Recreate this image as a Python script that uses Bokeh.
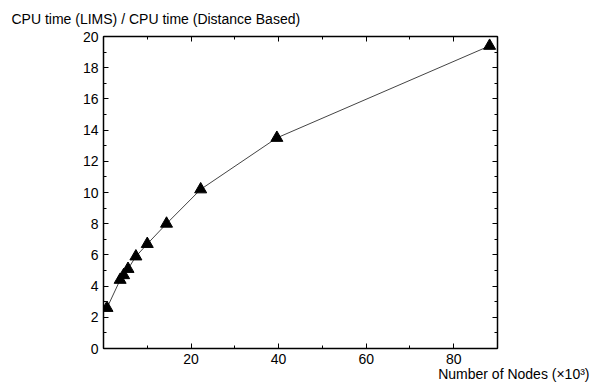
from bokeh.plotting import figure
from bokeh.models import (LinearAxis, SingleIntervalTicker, Range1d, Title)
from bokeh.embed import file_html
from bokeh.resources import INLINE

# Data
nodes_k = [0.8, 3.8, 4.6, 5.6, 7.4, 10.0, 14.4, 22.2, 39.6, 88.2]
cpu_ratio = [2.6, 4.4, 4.7, 5.1, 5.9, 6.7, 8.0, 10.2, 13.5, 19.4]

x_tick_values = [0, 20, 40, 60, 80]
y_tick_values = [0, 2, 4, 6, 8, 10, 12, 14, 16, 18, 20]
title_text = "CPU time (LIMS) / CPU time (Distance Based)"
xlabel_text = "Number of Nodes (×10³)"

FONT = "Liberation Sans"
FS = "14px"

p = figure(width=590, height=384, output_backend="svg", toolbar_location=None,
           x_range=Range1d(0, 90), y_range=Range1d(0, 20),
           x_axis_location=None, y_axis_location=None)
p.min_border_left = 103
p.min_border_right = 93
p.min_border_top = 36
p.min_border_bottom = 36
p.outline_line_color = None
p.xgrid.visible = False
p.ygrid.visible = False
p.background_fill_color = "white"
p.border_fill_color = "white"


def style(ax, labels=True):
    ax.axis_line_width = 1.5
    ax.axis_line_color = "black"
    ax.major_tick_in = 5
    ax.major_tick_out = 0
    ax.minor_tick_in = 3
    ax.minor_tick_out = 0
    ax.major_tick_line_color = "black"
    ax.minor_tick_line_color = "black"
    ax.major_tick_line_width = 1
    ax.minor_tick_line_width = 1
    ax.major_label_text_font = FONT
    ax.major_label_text_color = "black"
    ax.major_label_text_font_size = FS if labels else "1px"
    ax.major_label_standoff = 5 if labels else 0


def xticker():
    return SingleIntervalTicker(interval=20, num_minor_ticks=2)


def yticker():
    return SingleIntervalTicker(interval=2, num_minor_ticks=2)


xb = LinearAxis(ticker=xticker())
xb.major_label_overrides = {0: ""}
style(xb)
p.add_layout(xb, "below")

xt = LinearAxis(ticker=xticker())
xt.major_label_overrides = {v: "" for v in x_tick_values}
style(xt, labels=False)
p.add_layout(xt, "above")

yl = LinearAxis(ticker=yticker())
style(yl)
p.add_layout(yl, "left")

yr = LinearAxis(ticker=yticker())
yr.major_label_overrides = {v: "" for v in y_tick_values}
style(yr, labels=False)
p.add_layout(yr, "right")

p.line(nodes_k, cpu_ratio, line_color="#444444", line_width=1)
p.scatter(nodes_k, cpu_ratio, marker="triangle", size=12,
          fill_color="black", line_color="black")

p.title = Title(text=title_text, align="left", offset=-92, standoff=16,
                vertical_align="top",
                text_font=FONT, text_font_size=FS, text_font_style="normal",
                text_color="black")
p.add_layout(Title(text=xlabel_text, align="right", offset=-92, standoff=-5,
                   text_font=FONT, text_font_size=FS, text_font_style="normal",
                   text_color="black"), "below")

open("out.html", "w").write(file_html(p, INLINE))
